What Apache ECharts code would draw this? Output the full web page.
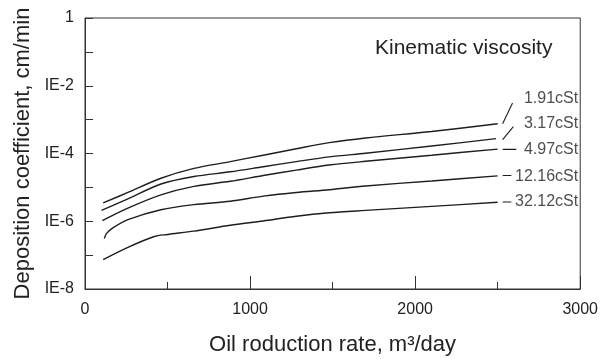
<!DOCTYPE html>
<html>
<head>
<meta charset="utf-8">
<script src="https://cdn.jsdelivr.net/npm/echarts@6/dist/echarts.min.js"></script>
<style>
html,body{margin:0;padding:0;background:#fff;}
#chart{width:601px;height:361px;}
</style>
</head>
<body>
<div id="chart"></div>
<script>
// ---- data ----
const viscNames = ['1.91cSt', '3.17cSt', '4.97cSt', '12.16cSt', '32.12cSt'];

const x1 = [110, 260, 460, 660, 880, 1080, 1280, 1480, 1700, 2100, 2500];
const y1 = [3.47e-6, 7.08e-6, 1.86e-5, 3.63e-5, 5.75e-5, 8.91e-5, 1.38e-4, 2.09e-4, 2.88e-4, 4.47e-4, 7.59e-4];

const x2 = [100, 260, 460, 660, 880, 1080, 1280, 1480, 1700, 2100, 2490];
const y2 = [2.09e-6, 4.57e-6, 1.26e-5, 2.09e-5, 2.88e-5, 4.07e-5, 5.75e-5, 7.94e-5, 1.02e-4, 1.66e-4, 2.75e-4];

const x3 = [105, 260, 460, 660, 880, 1080, 1280, 1480, 1700, 2100, 2500];
const y3 = [1.05e-6, 2.45e-6, 6.03e-6, 1.07e-5, 1.51e-5, 2.24e-5, 3.24e-5, 4.57e-5, 5.89e-5, 8.91e-5, 1.35e-4];

const x4 = [117, 131, 171, 260, 460, 660, 880, 1080, 1280, 1480, 1700, 2100, 2500];
const y4 = [3.09e-7, 4.37e-7, 6.46e-7, 1.12e-6, 2.19e-6, 3.09e-6, 3.89e-6, 5.50e-6, 7.08e-6, 8.51e-6, 1.10e-5, 1.55e-5, 2.19e-5];

const x5 = [110, 260, 420, 500, 660, 880, 1080, 1280, 1480, 1700, 2100, 2500];
const y5 = [7.41e-8, 1.70e-7, 3.55e-7, 4.07e-7, 5.13e-7, 7.59e-7, 1.02e-6, 1.41e-6, 1.78e-6, 2.09e-6, 2.75e-6, 3.63e-6];

// leader lines from curve ends to labels, and label anchor levels
const leaderFromX = [2530, 2530, 2530, 2530, 2530];
const leaderFromY = [7.6e-4, 2.57e-4, 1.32e-4, 2.25e-5, 3.7e-6];
const leaderToX = [2590, 2595, 2613, 2583, 2583];
const leaderToY = [3.1e-3, 6.2e-4, 1.32e-4, 2.25e-5, 3.7e-6];
const labelX = 2988;
const labelLevels = [4.3e-3, 7.6e-4, 1.32e-4, 2.14e-5, 3.7e-6];

// tick labels
const xTicks = [0, 1000, 2000, 3000];
const xTickLabels = ['0', '1000', '2000', '3000'];
const yTickExp = [-8, -6, -4, -2, 0];
const yTickLabels = ['IE-8', 'IE-6', 'IE-4', 'IE-2', '1'];

const curveX = [x1, x2, x3, x4, x5];
const curveY = [y1, y2, y3, y4, y5];

// ---- chart ----
const chart = echarts.init(document.getElementById('chart'), null, {renderer: 'canvas'});
const FONT = 'Liberation Sans, Arial, sans-serif';
const INK = '#1e1e1e';

const series = [];
curveX.forEach((xs, i) => {
  series.push({
    type: 'line',
    name: viscNames[i],
    data: xs.map((x, j) => [x, curveY[i][j]]),
    smooth: 0.3,
    showSymbol: false,
    symbol: 'none',
    lineStyle: {color: INK, width: 1.4},
    silent: true
  });
  series.push({
    type: 'line',
    data: [[leaderFromX[i], leaderFromY[i]], [leaderToX[i], leaderToY[i]]],
    showSymbol: false,
    symbol: 'none',
    lineStyle: {color: INK, width: 1.1},
    silent: true
  });
});
series.push({
  type: 'scatter',
  symbolSize: 0,
  data: labelLevels.map((v, i) => ({value: [labelX, v], name: viscNames[i]})),
  label: {
    show: true,
    position: 'left',
    distance: 0,
    formatter: p => p.name,
    color: '#222',
    fontSize: 16,
    fontFamily: FONT
  },
  silent: true
});

chart.setOption({
  animation: false,
  backgroundColor: '#fff',
  textStyle: {fontFamily: FONT},
  grid: {
    left: 85, right: 20, top: 18, bottom: 69,
    show: true, borderColor: '#333', borderWidth: 1, backgroundColor: 'transparent'
  },
  graphic: [{
    type: 'text',
    left: 375,
    top: 38,
    style: {text: 'Kinematic viscosity', fill: '#222', font: '21px ' + FONT}
  }],
  xAxis: {
    type: 'value',
    min: xTicks[0],
    max: xTicks[xTicks.length - 1],
    interval: 1000,
    name: 'Oil roduction rate, m³/day',
    nameLocation: 'middle',
    nameGap: 45,
    nameTextStyle: {fontSize: 22, color: '#222', fontFamily: FONT},
    axisLine: {lineStyle: {color: '#333', width: 1}},
    axisTick: {inside: true, length: 13, lineStyle: {color: '#333'}},
    minorTick: {show: true, splitNumber: 2, length: 7, lineStyle: {color: '#333'}},
    axisLabel: {
      fontSize: 16, color: '#222', margin: 13, fontFamily: FONT,
      formatter: v => {
        const k = xTicks.indexOf(Math.round(v));
        return k >= 0 ? xTickLabels[k] : '';
      }
    },
    splitLine: {show: false}
  },
  yAxis: {
    type: 'log',
    logBase: 10,
    min: 1e-8,
    max: 1,
    splitNumber: 8,
    name: 'Deposition coefficient, cm/min',
    nameLocation: 'middle',
    nameGap: 51,
    nameTextStyle: {fontSize: 22, color: '#222', fontFamily: FONT},
    axisLine: {show: true, lineStyle: {color: '#333', width: 1}},
    axisTick: {show: true, inside: true, length: 8, lineStyle: {color: '#333'}},
    axisLabel: {
      fontSize: 16, color: '#222', margin: 11, fontFamily: FONT,
      formatter: v => {
        const e = Math.round(Math.log10(v));
        const k = yTickExp.indexOf(e);
        return k >= 0 ? yTickLabels[k] : '';
      }
    },
    splitLine: {show: false}
  },
  series: series
});
</script>
</body>
</html>
